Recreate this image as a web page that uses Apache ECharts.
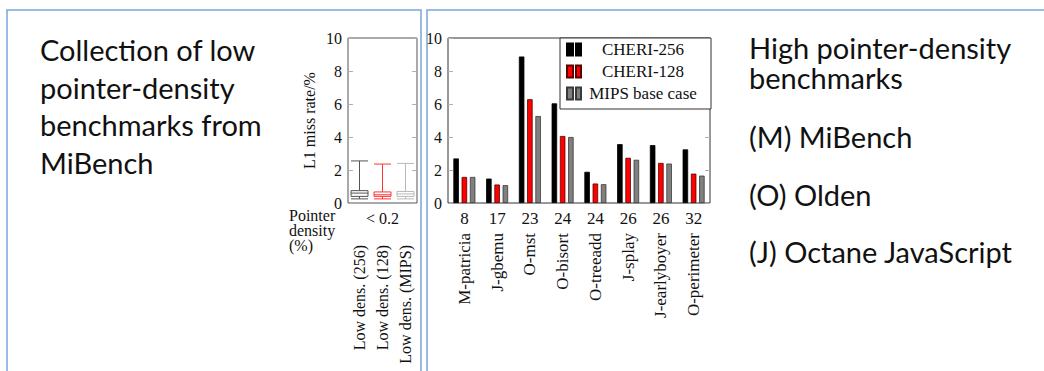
<!DOCTYPE html>
<html><head><meta charset="utf-8">
<script src="https://cdn.jsdelivr.net/npm/echarts@6/dist/echarts.min.js"></script>
<style>html,body{margin:0;padding:0;background:#fff}#c{width:1044px;height:371px}</style>
</head><body><div id="c"></div>
<script>
// ---- data ----
const benchNames = ['M-patricia','J-gbemu','O-mst','O-bisort','O-treeadd','J-splay','J-earlyboyer','O-perimeter'];
const pointerDensity = ['8','17','23','24','24','26','26','32'];
const cheri256 = [2.70, 1.48, 8.88, 6.04, 1.89, 3.57, 3.51, 3.25];
const cheri128 = [1.58, 1.12, 6.29, 4.06, 1.18, 2.74, 2.43, 1.78];
const mipsBase = [1.58, 1.08, 5.27, 4.00, 1.14, 2.62, 2.39, 1.66];
const seriesNames = ['CHERI-256', 'CHERI-128', 'MIPS base case'];
const lowDensCats = ['Low dens. (256)', 'Low dens. (128)', 'Low dens. (MIPS)'];
const lowDensGroup = ['< 0.2'];
// [min, Q1, median, Q3, max]
const lowDensBox = [
  [0.25, 0.40, 0.60, 0.75, 2.55],
  [0.25, 0.40, 0.50, 0.67, 2.36],
  [0.25, 0.40, 0.55, 0.70, 2.40]
];
const leftLines = ['Collection of low', 'pointer-density', 'benchmarks from', 'MiBench'];
const rightHead = ['High pointer-density', 'benchmarks'];
const rightItems = ['(M) MiBench', '(O) Olden', '(J) Octane JavaScript'];
const densityLabel = ['Pointer', 'density', '(%)'];

// ---- styles ----
const SERIF = '"Liberation Serif", "Times New Roman", serif';
const SANS = 'Lato, "Open Sans", sans-serif';
const boxColors = ['#555555', '#ff3333', '#b8b8b8'];
const barFill = ['#000000', '#ff0000', '#808080'];
const barBorder = ['#000000', '#5a0000', '#3a3a3a'];
const panelBlue = '#7aa5da';
const lbl = {fontFamily: SERIF, fontSize: 16, color: '#111'};
const bigFont = '29px ' + SANS;

const chart = echarts.init(document.getElementById('c'), null, {renderer: 'svg'});

const yCommon = (grid, right, withLabels, name) => ({
  gridIndex: grid, type: 'value', min: 0, max: 10, interval: 2,
  position: right ? 'right' : 'left',
  axisLine: {show: false},
  axisTick: {show: true, inside: true, length: 5, lineStyle: {color: '#b0b0b0'}},
  splitLine: {show: false},
  axisLabel: withLabels ? Object.assign({margin: 6}, lbl) : {show: false},
  name: name || '', nameLocation: 'middle', nameGap: 31,
  nameTextStyle: Object.assign({}, lbl)
});
const xCat = (grid, data, extra) => ({
  gridIndex: grid, type: 'category', data: data, position: 'bottom',
  axisLine: {show: false}, axisTick: {show: false}, splitLine: {show: false},
  axisLabel: Object.assign({interval: 0}, lbl, extra)
});

const textEl = (x, y, t, font, lh) => ({
  type: 'text', left: x, top: y, silent: true,
  style: {text: t, font: font, fill: '#111', lineHeight: lh}
});

const option = {
  animation: false,
  backgroundColor: '#fff',
  grid: [
    {left: 348, top: 38, width: 69, height: 165, show: true, borderColor: '#555', borderWidth: 1,
     backgroundColor: 'transparent', containLabel: false, outerBoundsMode: 'none'},
    {left: 448, top: 38, width: 262, height: 165, show: true, borderColor: '#333', borderWidth: 1,
     backgroundColor: 'transparent', containLabel: false, outerBoundsMode: 'none'}
  ],
  xAxis: [
    xCat(0, lowDensCats, {rotate: 90, margin: 42}),
    xCat(0, lowDensGroup, {margin: 7}),
    xCat(1, benchNames, {margin: 7, fontSize: 17, formatter: (v, i) => pointerDensity[i]}),
    xCat(1, benchNames, {rotate: 90, margin: 30, fontSize: 17})
  ],
  yAxis: [
    yCommon(0, false, true, 'L1 miss rate/%'),
    yCommon(0, true, false),
    yCommon(1, false, true),
    yCommon(1, true, false)
  ],
  legend: {
    data: seriesNames,
    orient: 'vertical',
    left: 560, top: 38,
    padding: [3, 11, 7, 6],
    itemGap: 5,
    itemWidth: 14, itemHeight: 12,
    icon: 'path://M0,0h6v12h-6zM9,0h5v12h-5z',
    backgroundColor: '#fff',
    borderColor: '#333', borderWidth: 1, borderRadius: 0,
    formatter: n => '{t|' + n + '}',
    textStyle: {fontFamily: SERIF, fontSize: 17, color: '#111', lineHeight: 17,
      rich: {t: {width: 114, align: 'center', fontFamily: SERIF, fontSize: 17, color: '#111'}}}
  },
  series: [
    {type: 'boxplot', xAxisIndex: 0, yAxisIndex: 0, boxWidth: [17, 17],
     data: lowDensBox.map((v, i) => ({value: v, itemStyle: {color: 'rgba(255,255,255,0)', borderColor: boxColors[i], borderWidth: 1}}))},
    ...[cheri256, cheri128, mipsBase].map((d, i) => ({
      type: 'bar', name: seriesNames[i], xAxisIndex: 2, yAxisIndex: 2, data: d,
      barWidth: 5.5, barGap: '50%',
      itemStyle: {color: barFill[i], borderColor: barBorder[i], borderWidth: 0.8}
    }))
  ],
  graphic: [
    {type: 'rect', shape: {x: 7, y: 10, width: 414, height: 400}, style: {fill: 'none', stroke: panelBlue, lineWidth: 1.5}, silent: true},
    {type: 'rect', shape: {x: 427, y: 10, width: 700, height: 400}, style: {fill: 'none', stroke: panelBlue, lineWidth: 1.5}, silent: true},
    ...leftLines.map((t, i) => textEl(40, 33 + i * 37.5, t, bigFont, 33)),
    ...rightHead.map((t, i) => textEl(749, 32 + i * 30, t, bigFont, 30)),
    ...rightItems.map((t, i) => textEl(749, 120 + i * 57.5, t, bigFont, 33)),
    ...densityLabel.map((t, i) => textEl(289, 207 + i * 15, t, '16px ' + SERIF, 15))
  ]
};
chart.setOption(option);
</script></body></html>
